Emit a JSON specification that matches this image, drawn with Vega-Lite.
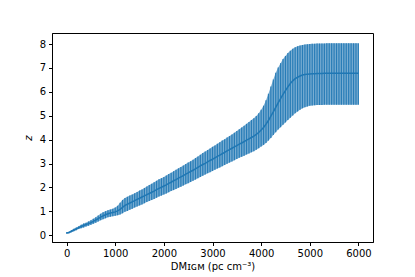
{
  "$schema": "https://vega.github.io/schema/vega-lite/v6.json",
  "width": 321,
  "height": 209,
  "autosize": {"type": "none"},
  "padding": {"left": 52, "top": 33, "right": 42, "bottom": 35},
  "background": "white",
  "config": {
    "view": {"stroke": "black", "strokeWidth": 1},
    "font": "DejaVu Sans",
    "axis": {
      "grid": false,
      "domainColor": "black",
      "domainWidth": 1,
      "tickColor": "black",
      "tickWidth": 1,
      "tickSize": 3.5,
      "labelColor": "black",
      "labelFontSize": 10,
      "labelFont": "DejaVu Sans",
      "labelPadding": 3,
      "labelOverlap": false,
      "titleColor": "black",
      "titleFontSize": 10,
      "titleFont": "DejaVu Sans",
      "titleFontWeight": "normal"
    }
  },
  "data": {
    "values": [
      {"x": 0, "c": 0.10, "lo": 0.07, "hi": 0.13},
      {"x": 50, "c": 0.12, "lo": 0.09, "hi": 0.15},
      {"x": 100, "c": 0.17, "lo": 0.13, "hi": 0.21},
      {"x": 150, "c": 0.22, "lo": 0.17, "hi": 0.27},
      {"x": 200, "c": 0.27, "lo": 0.21, "hi": 0.33},
      {"x": 250, "c": 0.32, "lo": 0.26, "hi": 0.38},
      {"x": 300, "c": 0.37, "lo": 0.30, "hi": 0.44},
      {"x": 350, "c": 0.41, "lo": 0.33, "hi": 0.49},
      {"x": 400, "c": 0.45, "lo": 0.37, "hi": 0.53},
      {"x": 450, "c": 0.49, "lo": 0.40, "hi": 0.58},
      {"x": 500, "c": 0.53, "lo": 0.44, "hi": 0.63},
      {"x": 550, "c": 0.58, "lo": 0.48, "hi": 0.69},
      {"x": 600, "c": 0.64, "lo": 0.53, "hi": 0.76},
      {"x": 650, "c": 0.70, "lo": 0.58, "hi": 0.83},
      {"x": 700, "c": 0.76, "lo": 0.63, "hi": 0.90},
      {"x": 750, "c": 0.81, "lo": 0.67, "hi": 0.96},
      {"x": 800, "c": 0.86, "lo": 0.71, "hi": 1.01},
      {"x": 850, "c": 0.90, "lo": 0.75, "hi": 1.05},
      {"x": 900, "c": 0.93, "lo": 0.78, "hi": 1.08},
      {"x": 950, "c": 0.95, "lo": 0.80, "hi": 1.11},
      {"x": 1000, "c": 0.98, "lo": 0.82, "hi": 1.16},
      {"x": 1050, "c": 1.02, "lo": 0.84, "hi": 1.24},
      {"x": 1100, "c": 1.08, "lo": 0.87, "hi": 1.36},
      {"x": 1150, "c": 1.17, "lo": 0.92, "hi": 1.48},
      {"x": 1200, "c": 1.25, "lo": 0.98, "hi": 1.56},
      {"x": 1250, "c": 1.30, "lo": 1.02, "hi": 1.61},
      {"x": 1300, "c": 1.35, "lo": 1.07, "hi": 1.66},
      {"x": 1350, "c": 1.40, "lo": 1.11, "hi": 1.71},
      {"x": 1400, "c": 1.45, "lo": 1.16, "hi": 1.76},
      {"x": 1450, "c": 1.50, "lo": 1.20, "hi": 1.81},
      {"x": 1500, "c": 1.55, "lo": 1.25, "hi": 1.87},
      {"x": 1550, "c": 1.60, "lo": 1.29, "hi": 1.92},
      {"x": 1600, "c": 1.65, "lo": 1.34, "hi": 1.98},
      {"x": 1650, "c": 1.70, "lo": 1.39, "hi": 2.04},
      {"x": 1700, "c": 1.75, "lo": 1.43, "hi": 2.10},
      {"x": 1750, "c": 1.80, "lo": 1.48, "hi": 2.16},
      {"x": 1800, "c": 1.85, "lo": 1.52, "hi": 2.22},
      {"x": 1850, "c": 1.91, "lo": 1.57, "hi": 2.28},
      {"x": 1900, "c": 1.96, "lo": 1.62, "hi": 2.34},
      {"x": 1950, "c": 2.01, "lo": 1.66, "hi": 2.39},
      {"x": 2000, "c": 2.06, "lo": 1.71, "hi": 2.44},
      {"x": 2050, "c": 2.11, "lo": 1.75, "hi": 2.50},
      {"x": 2100, "c": 2.17, "lo": 1.80, "hi": 2.56},
      {"x": 2150, "c": 2.22, "lo": 1.85, "hi": 2.62},
      {"x": 2200, "c": 2.28, "lo": 1.89, "hi": 2.68},
      {"x": 2250, "c": 2.33, "lo": 1.94, "hi": 2.74},
      {"x": 2300, "c": 2.39, "lo": 1.99, "hi": 2.80},
      {"x": 2350, "c": 2.44, "lo": 2.03, "hi": 2.86},
      {"x": 2400, "c": 2.50, "lo": 2.08, "hi": 2.92},
      {"x": 2450, "c": 2.56, "lo": 2.13, "hi": 2.98},
      {"x": 2500, "c": 2.61, "lo": 2.18, "hi": 3.04},
      {"x": 2550, "c": 2.67, "lo": 2.23, "hi": 3.10},
      {"x": 2600, "c": 2.72, "lo": 2.28, "hi": 3.16},
      {"x": 2650, "c": 2.78, "lo": 2.33, "hi": 3.23},
      {"x": 2700, "c": 2.84, "lo": 2.39, "hi": 3.30},
      {"x": 2750, "c": 2.90, "lo": 2.44, "hi": 3.37},
      {"x": 2800, "c": 2.96, "lo": 2.49, "hi": 3.44},
      {"x": 2850, "c": 3.01, "lo": 2.54, "hi": 3.50},
      {"x": 2900, "c": 3.07, "lo": 2.59, "hi": 3.57},
      {"x": 2950, "c": 3.13, "lo": 2.64, "hi": 3.63},
      {"x": 3000, "c": 3.18, "lo": 2.69, "hi": 3.70},
      {"x": 3050, "c": 3.24, "lo": 2.74, "hi": 3.76},
      {"x": 3100, "c": 3.30, "lo": 2.79, "hi": 3.83},
      {"x": 3150, "c": 3.35, "lo": 2.84, "hi": 3.89},
      {"x": 3200, "c": 3.41, "lo": 2.89, "hi": 3.96},
      {"x": 3250, "c": 3.47, "lo": 2.94, "hi": 4.02},
      {"x": 3300, "c": 3.53, "lo": 2.99, "hi": 4.09},
      {"x": 3350, "c": 3.58, "lo": 3.04, "hi": 4.15},
      {"x": 3400, "c": 3.64, "lo": 3.09, "hi": 4.22},
      {"x": 3450, "c": 3.70, "lo": 3.14, "hi": 4.29},
      {"x": 3500, "c": 3.75, "lo": 3.19, "hi": 4.36},
      {"x": 3550, "c": 3.81, "lo": 3.24, "hi": 4.43},
      {"x": 3600, "c": 3.86, "lo": 3.29, "hi": 4.51},
      {"x": 3650, "c": 3.92, "lo": 3.33, "hi": 4.58},
      {"x": 3700, "c": 3.98, "lo": 3.38, "hi": 4.66},
      {"x": 3750, "c": 4.03, "lo": 3.42, "hi": 4.74},
      {"x": 3800, "c": 4.09, "lo": 3.47, "hi": 4.82},
      {"x": 3850, "c": 4.15, "lo": 3.52, "hi": 4.90},
      {"x": 3900, "c": 4.22, "lo": 3.58, "hi": 4.99},
      {"x": 3950, "c": 4.30, "lo": 3.64, "hi": 5.10},
      {"x": 4000, "c": 4.40, "lo": 3.71, "hi": 5.25},
      {"x": 4050, "c": 4.51, "lo": 3.78, "hi": 5.42},
      {"x": 4100, "c": 4.65, "lo": 3.86, "hi": 5.65},
      {"x": 4150, "c": 4.80, "lo": 3.96, "hi": 5.92},
      {"x": 4200, "c": 4.98, "lo": 4.07, "hi": 6.22},
      {"x": 4250, "c": 5.16, "lo": 4.19, "hi": 6.52},
      {"x": 4300, "c": 5.35, "lo": 4.31, "hi": 6.80},
      {"x": 4350, "c": 5.54, "lo": 4.42, "hi": 7.02},
      {"x": 4400, "c": 5.72, "lo": 4.52, "hi": 7.20},
      {"x": 4450, "c": 5.89, "lo": 4.62, "hi": 7.37},
      {"x": 4500, "c": 6.05, "lo": 4.72, "hi": 7.50},
      {"x": 4550, "c": 6.21, "lo": 4.82, "hi": 7.62},
      {"x": 4600, "c": 6.35, "lo": 4.92, "hi": 7.72},
      {"x": 4650, "c": 6.46, "lo": 5.01, "hi": 7.80},
      {"x": 4700, "c": 6.55, "lo": 5.10, "hi": 7.86},
      {"x": 4750, "c": 6.61, "lo": 5.18, "hi": 7.91},
      {"x": 4800, "c": 6.66, "lo": 5.25, "hi": 7.94},
      {"x": 4850, "c": 6.70, "lo": 5.31, "hi": 7.96},
      {"x": 4900, "c": 6.72, "lo": 5.36, "hi": 7.98},
      {"x": 4950, "c": 6.74, "lo": 5.39, "hi": 7.99},
      {"x": 5000, "c": 6.75, "lo": 5.42, "hi": 8.00},
      {"x": 5050, "c": 6.76, "lo": 5.43, "hi": 8.01},
      {"x": 5100, "c": 6.76, "lo": 5.44, "hi": 8.01},
      {"x": 5150, "c": 6.77, "lo": 5.45, "hi": 8.02},
      {"x": 5200, "c": 6.77, "lo": 5.45, "hi": 8.02},
      {"x": 5250, "c": 6.77, "lo": 5.45, "hi": 8.02},
      {"x": 5300, "c": 6.78, "lo": 5.46, "hi": 8.02},
      {"x": 5350, "c": 6.78, "lo": 5.46, "hi": 8.03},
      {"x": 5400, "c": 6.78, "lo": 5.46, "hi": 8.03},
      {"x": 5450, "c": 6.78, "lo": 5.46, "hi": 8.03},
      {"x": 5500, "c": 6.78, "lo": 5.46, "hi": 8.03},
      {"x": 5550, "c": 6.78, "lo": 5.46, "hi": 8.03},
      {"x": 5600, "c": 6.78, "lo": 5.46, "hi": 8.03},
      {"x": 5650, "c": 6.78, "lo": 5.46, "hi": 8.03},
      {"x": 5700, "c": 6.78, "lo": 5.46, "hi": 8.03},
      {"x": 5750, "c": 6.78, "lo": 5.46, "hi": 8.03},
      {"x": 5800, "c": 6.78, "lo": 5.46, "hi": 8.03},
      {"x": 5850, "c": 6.78, "lo": 5.46, "hi": 8.03},
      {"x": 5900, "c": 6.78, "lo": 5.46, "hi": 8.03},
      {"x": 5950, "c": 6.78, "lo": 5.46, "hi": 8.03},
      {"x": 6000, "c": 6.78, "lo": 5.46, "hi": 8.03}
    ]
  },
  "encoding": {
    "x": {
      "field": "x",
      "type": "quantitative",
      "scale": {"domain": [-300, 6300], "nice": false, "zero": false},
      "axis": {
        "values": [0, 1000, 2000, 3000, 4000, 5000, 6000],
        "format": "d",
        "title": "DMɪɢᴍ (pc cm⁻³)",
        "titlePadding": 3
      }
    }
  },
  "layer": [
    {
      "mark": {"type": "area", "color": "#1f77b4", "opacity": 0.6},
      "encoding": {
        "y": {
          "field": "lo",
          "type": "quantitative",
          "scale": {"domain": [-0.28, 8.46], "nice": false, "zero": false},
          "axis": {
            "values": [0, 1, 2, 3, 4, 5, 6, 7, 8],
            "tickCount": 9,
            "labelOverlap": false,
            "format": "d",
            "title": "z",
            "titleFontStyle": "italic",
            "titlePadding": 6
          }
        },
        "y2": {"field": "hi"}
      }
    },
    {
      "mark": {"type": "rule", "color": "#1f77b4", "strokeWidth": 1.2, "opacity": 0.9},
      "encoding": {
        "y": {
          "field": "lo",
          "type": "quantitative",
          "scale": {"domain": [-0.28, 8.46], "nice": false, "zero": false},
          "axis": {
            "values": [0, 1, 2, 3, 4, 5, 6, 7, 8],
            "tickCount": 9,
            "labelOverlap": false,
            "format": "d",
            "title": "z",
            "titleFontStyle": "italic",
            "titlePadding": 6
          }
        },
        "y2": {"field": "hi"}
      }
    },
    {
      "mark": {"type": "line", "color": "#1f77b4", "strokeWidth": 1.5},
      "encoding": {
        "y": {
          "field": "c",
          "type": "quantitative",
          "scale": {"domain": [-0.28, 8.46], "nice": false, "zero": false},
          "axis": {
            "values": [0, 1, 2, 3, 4, 5, 6, 7, 8],
            "tickCount": 9,
            "labelOverlap": false,
            "format": "d",
            "title": "z",
            "titleFontStyle": "italic",
            "titlePadding": 6
          }
        }
      }
    }
  ]
}
